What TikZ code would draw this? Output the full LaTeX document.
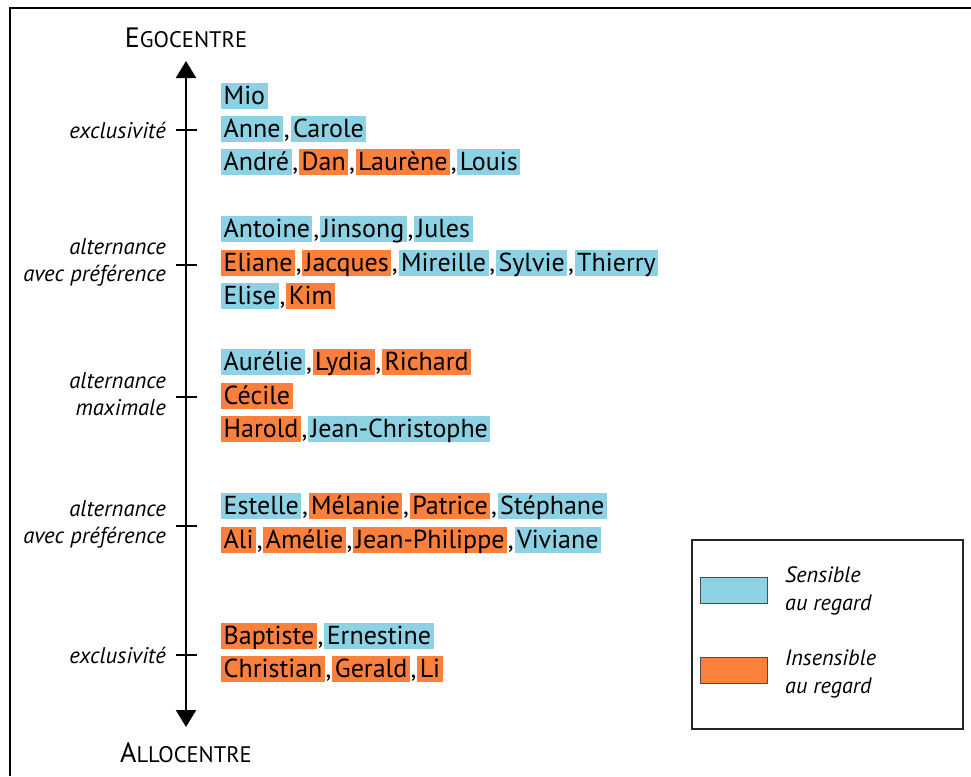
\documentclass[tikz,border=0pt]{standalone}
\usepackage{fontspec}
\setmainfont{PT Sans}
\usepackage{xcolor}
\usepackage{tikz}
\usetikzlibrary{arrows.meta,positioning}
\definecolor{sensblue}{RGB}{140, 210, 228}
\definecolor{insorange}{RGB}{250, 128, 60}

\tikzset{
  namebox/.style={inner xsep=2.5pt, inner ysep=3.5pt, text height=18pt, text depth=1pt, font=\fontsize{26}{30}\selectfont},
  comma/.style={inner xsep=0.4pt, inner ysep=3.5pt, text height=18pt, text depth=1pt, font=\fontsize{26}{30}\selectfont},
  levellabel/.style={font=\fontsize{22.7}{27}\selectfont\itshape, align=right, anchor=east, inner sep=0pt},
  legendtext/.style={font=\fontsize{22.2}{28}\selectfont\itshape, align=left, anchor=west, inner sep=0pt},
  swatch/.style={draw=black!70, line width=0.8pt, minimum width=67pt, minimum height=26pt, inner sep=0pt},
  tickmark/.style={line width=2pt},
  pole/.style={font=\fontsize{28}{30}\selectfont, inner sep=0pt, anchor=base},
}

% one row of names: id, y, list of name/colour
\newcommand{\namerow}[3]{%
  \foreach \nm/\col [count=\i] in {#3} {
    \ifnum\i=1
      \node[namebox, fill=\col, anchor=west] (#1-\i) at (221,#2) {\nm};
    \else
      \pgfmathtruncatemacro{\j}{\i-1}
      \node[comma, right=0pt of #1-\j] (#1-c\j) {,};
      \node[namebox, fill=\col, right=0pt of #1-c\j] (#1-\i) {\nm};
    \fi
  }%
}

\begin{document}
\begin{tikzpicture}[x=1pt, y=-1pt]
        \useasboundingbox (0,0) rectangle (971,776);
        % Frame
        \draw[line width=2.5pt] (10,776) -- (10,8) -- (971,8);

        % Axis
        \node[pole] (ego) at (186,48) {E{\fontsize{22.5}{25}\selectfont GOCENTRE}};
        \node[pole] (allo) at (186,762) {A{\fontsize{22.5}{25}\selectfont LLOCENTRE}};
        \coordinate (top) at (186,61);
        \coordinate (bot) at (186,727);
        \draw[{Triangle[width=20pt,length=17pt]}-{Triangle[width=20pt,length=17pt]}, line width=2.3pt] (top) -- (bot);

        % Ticks and level labels
        \foreach \t/\ty in {t1/130, t2/265, t3/397, t4/526, t5/655} {
          \coordinate (\t) at (186,\ty);
          \draw[tickmark] (\t) ++(-10,0) -- ++(21,0);
        }
        \node[levellabel] (lab1) at (166,130) {exclusivité};
        \node[levellabel] (lab2) at (166,262) {alternance\\avec préférence};
        \node[levellabel] (lab3) at (166,394) {alternance\\maximale};
        \node[levellabel] (lab4) at (166,524) {alternance\\avec préférence};
        \node[levellabel] (lab5) at (166,655) {exclusivité};

        % Level 1: exclusivite
        \namerow{r1}{96}{Mio/sensblue}
        \namerow{r2}{129}{Anne/sensblue, Carole/sensblue}
        \namerow{r3}{162}{André/sensblue, Dan/insorange, Laurène/insorange, Louis/sensblue}

        % Level 2: alternance avec preference
        \namerow{r4}{229}{Antoine/sensblue, Jinsong/sensblue, Jules/sensblue}
        \namerow{r5}{263}{Eliane/insorange, Jacques/insorange, Mireille/sensblue, Sylvie/sensblue, Thierry/sensblue}
        \namerow{r6}{296}{Elise/sensblue, Kim/insorange}

        % Level 3: alternance maximale
        \namerow{r7}{362}{Aurélie/sensblue, Lydia/insorange, Richard/insorange}
        \namerow{r8}{396}{Cécile/insorange}
        \namerow{r9}{429}{Harold/insorange, Jean-Christophe/sensblue}

        % Level 4: alternance avec preference
        \namerow{r10}{506}{Estelle/sensblue, Mélanie/insorange, Patrice/insorange, Stéphane/sensblue}
        \namerow{r11}{540}{Ali/insorange, Amélie/insorange, Jean-Philippe/insorange, Viviane/sensblue}

        % Level 5: exclusivite
        \namerow{r12}{636}{Baptiste/insorange, Ernestine/sensblue}
        \namerow{r13}{669}{Christian/insorange, Gerald/insorange, Li/insorange}

        % Legend
        \draw[line width=2.3pt, draw=black!85] (692,540) rectangle (963,729);
        \node[swatch, fill=sensblue] (swsens) at (733.5,590) {};
        \node[swatch, fill=insorange] (swins) at (733.5,670.5) {};
        \node[legendtext] (legsens) at (785,591) {Sensible\\au regard};
        \node[legendtext] (legins) at (785,674) {Insensible\\au regard};
\end{tikzpicture}
\end{document}
